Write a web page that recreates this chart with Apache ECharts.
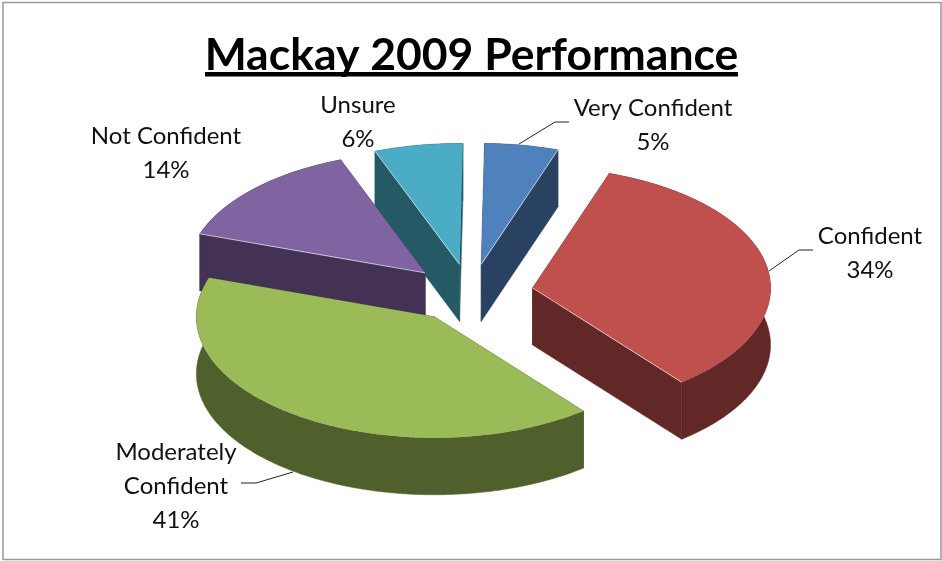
<!DOCTYPE html>
<html>
<head>
<meta charset="utf-8">
<style>html,body{margin:0;padding:0;background:#fff}#chart{width:942px;height:561px}</style>
<script src="https://cdn.jsdelivr.net/npm/echarts@6/dist/echarts.min.js"></script>
</head>
<body>
<div id="chart"></div>
<script>
var titleText = 'Mackay 2009 Performance';
var categories = ['Very Confident', 'Confident', 'Moderately Confident', 'Not Confident', 'Unsure'];
var values = [5, 34, 41, 14, 6];
var topColors = ['#4f81bd', '#c0504d', '#9bbb59', '#8064a2', '#4bacc6'];
var sideColors = ['#2a4262', '#622727', '#4f602c', '#433253', '#265966'];
var labelLines = [['Very Confident'], ['Confident'], ['Moderately', 'Confident'], ['Not Confident'], ['Unsure']];

// Projection of the tilted pie on the page
var pie = { cx: 470.5, cy: 293, rx: 238, ry: 121, explodeX: 63, explodeY: 29, depth: 57, startDeg: 0.8 };
// Label anchors: centre x, first-line centre y, line step
var labelPos = [[653, 108], [870, 236], [176, 452], [166, 136], [358, 105]];
var lineStep = 34;
var leaders = [
  [[519, 144], [555, 122], [569, 122]],
  [[769, 271], [799, 250], [813, 250]],
  [[293, 472], [256, 483], [241, 483]],
  null,
  null
];

var total = values.reduce(function (a, b) { return a + b; }, 0);
var cumulative = [];
values.reduce(function (acc, v, i) { cumulative[i] = acc; return acc + v; }, 0);

function arcPoints(c, a, b, dy) {
  var n = Math.max(2, Math.ceil(Math.abs(b - a) * 90));
  var pts = [];
  for (var k = 0; k <= n; k++) {
    var t = a + (b - a) * k / n;
    pts.push([c[0] + pie.rx * Math.sin(t), c[1] - pie.ry * Math.cos(t) + dy]);
  }
  return pts;
}

function renderSlice(params, api) {
  var i = params.dataIndex;
  var v = api.value(0);
  var start = (cumulative[i] / total) * 2 * Math.PI + pie.startDeg * Math.PI / 180;
  var end = start + (v / total) * 2 * Math.PI;
  var mid = (start + end) / 2;
  var c = [pie.cx + pie.explodeX * Math.sin(mid), pie.cy - pie.explodeY * Math.cos(mid)];
  var d = pie.depth;
  var arc = arcPoints(c, start, end, 0);
  var arcLow = arcPoints(c, start, end, d);
  var p0 = arc[0], p1 = arc[arc.length - 1];
  var side = { fill: sideColors[i], stroke: sideColors[i], lineWidth: 0.5 };
  var z = Math.round(-Math.cos(mid) * 100) * 10;
  var children = [
    { type: 'polygon', z2: z, shape: { points: arc.concat(arcLow.slice().reverse()) }, style: side },
    { type: 'polygon', z2: z, shape: { points: [c, p0, [p0[0], p0[1] + d], [c[0], c[1] + d]] }, style: side },
    { type: 'polygon', z2: z, shape: { points: [c, p1, [p1[0], p1[1] + d], [c[0], c[1] + d]] }, style: side },
    { type: 'polygon', z2: z + 1, shape: { points: [c].concat(arc) }, style: { fill: topColors[i] } }
  ];
  // Pale highlight along the cut edge that faces the viewer
  if (Math.cos(mid) > -0.5) {
    var edge = Math.sin(mid) < 0 ? p0 : p1;
    children.push({
      type: 'line', z2: z + 2,
      shape: { x1: c[0], y1: c[1], x2: edge[0], y2: edge[1] },
      style: { stroke: 'rgba(255,255,255,0.65)', lineWidth: 1 }
    });
  }
  return { type: 'group', children: children };
}

function labelGraphics() {
  var out = [];
  categories.forEach(function (name, i) {
    var lines = labelLines[i].concat([values[i] + '%']);
    lines.forEach(function (t, k) {
      out.push({
        type: 'text', z: 10,
        style: {
          text: t, x: labelPos[i][0], y: labelPos[i][1] + k * lineStep,
          textAlign: 'center', textVerticalAlign: 'middle',
          font: '24px Lato', fill: '#111'
        }
      });
    });
    if (leaders[i]) {
      out.push({
        type: 'polyline', z: 9,
        shape: { points: leaders[i] },
        style: { stroke: '#222', lineWidth: 1, fill: null }
      });
    }
  });
  return out;
}

var chart = echarts.init(document.getElementById('chart'), null, { renderer: 'canvas' });
chart.setOption({
  animation: false,
  backgroundColor: '#fff',
  title: {
    text: titleText, left: 466.5, top: 28, textAlign: 'center',
    textStyle: { fontFamily: 'Lato', fontWeight: 'bold', fontSize: 44.5, color: '#000' }
  },
  graphic: [
    { type: 'rect', z: -1, shape: { x: 3, y: 2.5, width: 938, height: 557 }, style: { fill: '#fff', stroke: '#999', lineWidth: 1.5 } },
    { type: 'rect', z: 5, shape: { x: 205, y: 72, width: 533, height: 4.5 }, style: { fill: '#000' } }
  ].concat(labelGraphics()),
  series: [{
    type: 'custom',
    name: titleText,
    coordinateSystem: 'none',
    renderItem: renderSlice,
    data: categories.map(function (n, i) { return { name: n, value: [values[i]] }; })
  }]
});
</script>
</body>
</html>
